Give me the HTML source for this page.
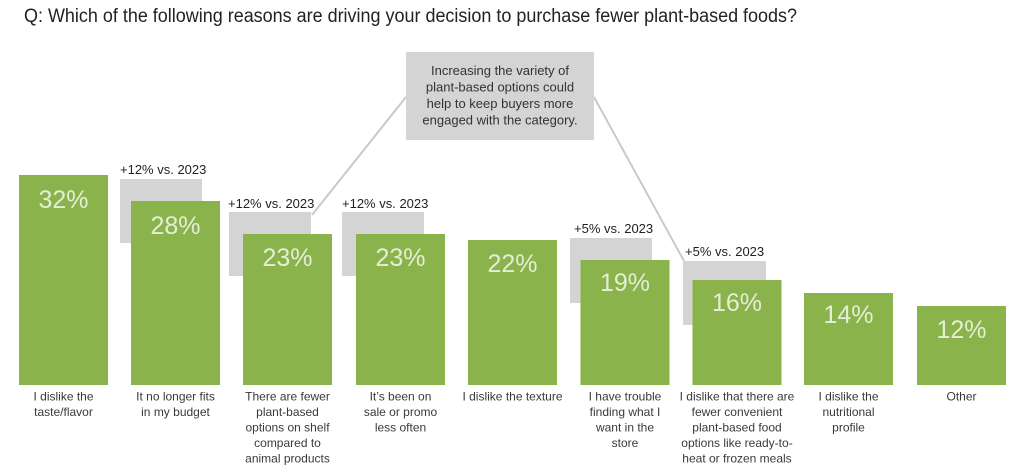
<!DOCTYPE html>
<html>
<head>
<meta charset="utf-8">
<style>
html,body{margin:0;padding:0;background:#ffffff;}
body{width:1024px;height:472px;overflow:hidden;}
svg{display:block;}
text{font-family:"Liberation Sans",sans-serif;}
</style>
</head>
<body>
<svg width="1024" height="472" viewBox="0 0 1024 472" xmlns="http://www.w3.org/2000/svg">
  <rect x="0" y="0" width="1024" height="472" fill="#ffffff"/>
  <!-- Title -->
  <text x="24" y="22" font-size="19" fill="#222222" textLength="773" lengthAdjust="spacingAndGlyphs">Q: Which of the following reasons are driving your decision to purchase fewer plant-based foods?</text>

  <!-- Connector lines -->
  <line x1="406" y1="97" x2="312" y2="215" stroke="#c9c9c9" stroke-width="2"/>
  <line x1="594" y1="97" x2="684" y2="261" stroke="#c9c9c9" stroke-width="2"/>

  <!-- Callout -->
  <rect x="406" y="52" width="188" height="88" fill="#d4d4d4"/>
  <g font-size="13" fill="#333333" text-anchor="middle">
    <text x="500" y="75">Increasing the variety of</text>
    <text x="500" y="91.5">plant-based options could</text>
    <text x="500" y="108">help to keep buyers more</text>
    <text x="500" y="124.5">engaged with the category.</text>
  </g>

  <!-- Gray comparison boxes -->
  <g fill="#d4d4d4">
    <rect x="120" y="179" width="82" height="64"/>
    <rect x="229" y="212" width="82" height="64"/>
    <rect x="342" y="212" width="82" height="64"/>
    <rect x="570" y="238" width="82" height="65"/>
    <rect x="683" y="261" width="83" height="64"/>
  </g>

  <!-- Comparison labels -->
  <g font-size="13" fill="#222222">
    <text x="120" y="174">+12% vs. 2023</text>
    <text x="228" y="208">+12% vs. 2023</text>
    <text x="342" y="208">+12% vs. 2023</text>
    <text x="574" y="233">+5% vs. 2023</text>
    <text x="685" y="256">+5% vs. 2023</text>
  </g>

  <!-- Bars -->
  <g fill="#8bb34b">
    <rect x="19" y="175" width="89" height="210"/>
    <rect x="131" y="201" width="89" height="184"/>
    <rect x="243" y="234" width="89" height="151"/>
    <rect x="356" y="234" width="89" height="151"/>
    <rect x="468" y="240" width="89" height="145"/>
    <rect x="580.5" y="260" width="89" height="125"/>
    <rect x="692.5" y="280" width="89" height="105"/>
    <rect x="804" y="293" width="89" height="92"/>
    <rect x="917" y="306" width="89" height="79"/>
  </g>

  <!-- Bar value labels -->
  <g font-size="25" fill="#e4eed6" text-anchor="middle">
    <text x="63.5" y="208">32%</text>
    <text x="175.5" y="234">28%</text>
    <text x="287.5" y="266">23%</text>
    <text x="400.5" y="266">23%</text>
    <text x="512.5" y="272">22%</text>
    <text x="625" y="291">19%</text>
    <text x="737" y="311">16%</text>
    <text x="848.5" y="323">14%</text>
    <text x="961.5" y="338">12%</text>
  </g>

  <!-- Category labels -->
  <g font-size="12" fill="#3a3a3a" text-anchor="middle">
    <text x="63.5" y="400.5">I dislike the</text>
    <text x="63.5" y="416">taste/flavor</text>

    <text x="175.5" y="400.5">It no longer fits</text>
    <text x="175.5" y="416">in my budget</text>

    <text x="287.5" y="400.5">There are fewer</text>
    <text x="287.5" y="416">plant-based</text>
    <text x="287.5" y="431.5">options on shelf</text>
    <text x="287.5" y="447">compared to</text>
    <text x="287.5" y="462.5">animal products</text>

    <text x="400.5" y="400.5">It’s been on</text>
    <text x="400.5" y="416">sale or promo</text>
    <text x="400.5" y="431.5">less often</text>

    <text x="512.5" y="400.5">I dislike the texture</text>

    <text x="625" y="400.5">I have trouble</text>
    <text x="625" y="416">finding what I</text>
    <text x="625" y="431.5">want in the</text>
    <text x="625" y="447">store</text>

    <text x="737" y="400.5">I dislike that there are</text>
    <text x="737" y="416">fewer convenient</text>
    <text x="737" y="431.5">plant-based food</text>
    <text x="737" y="447">options like ready-to-</text>
    <text x="737" y="462.5">heat or frozen meals</text>

    <text x="848.5" y="400.5">I dislike the</text>
    <text x="848.5" y="416">nutritional</text>
    <text x="848.5" y="431.5">profile</text>

    <text x="961.5" y="400.5">Other</text>
  </g>
</svg>
</body>
</html>
